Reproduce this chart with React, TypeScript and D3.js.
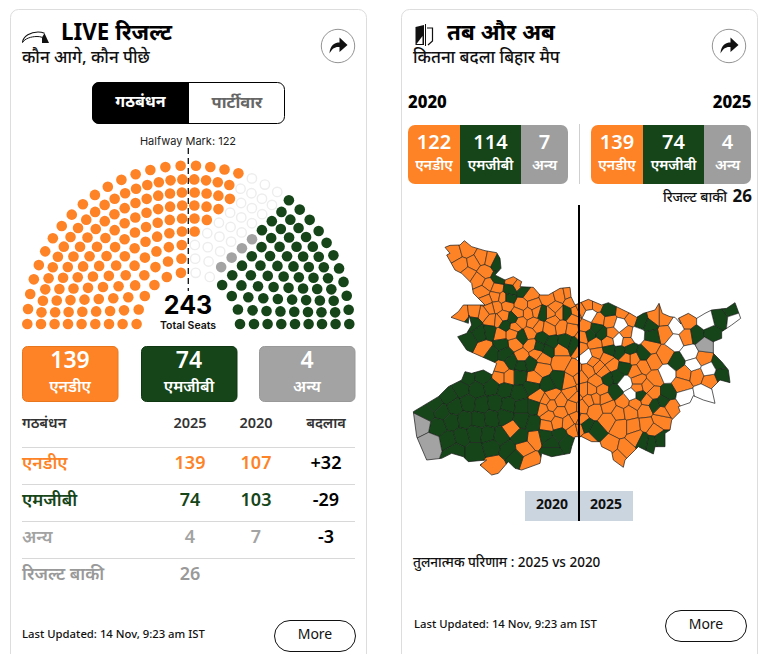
import React from "react";
import * as d3 from "d3";

const ORANGE = "#FD8326", GREEN = "#154518", GRAY = "#A3A3A3";
const FONT = "'Noto Sans', sans-serif";

// ---------- seats (outer ring first) ----------
const ringLeft = [17, 20, 18, 16, 14, 12, 10, 8, 6];
const ringRight = [18, 20, 18, 16, 14, 12, 10, 8, 6];
const ringRx = [161, 147.3, 133.7, 120.3, 106.7, 93, 79.3, 65.7, 51.7];
const ringRy = [158.5, 144.7, 131.7, 118.7, 105.7, 92.7, 79.3, 65.7, 51.7];
const rightOrange = [4, 4, 4, 3, 2, 1, 0, 0, 0];
const rightPending = [3, 4, 3, 3, 3, 3, 3, 2, 2];
const rightOther = [0, 0, 0, 0, 1, 1, 1, 1, 0];

// ---------- table ----------
const rowNames = ["एनडीए", "एमजीबी", "अन्य", "रिजल्ट बाकी"];
const seats2025 = ["139", "74", "4", "26"];
const seats2020 = ["107", "103", "7", ""];
const change = ["+32", "-29", "-3", ""];
const rowColors = [ORANGE, GREEN, "#A3A3A3", "#999999"];
const tableHeaders = ["गठबंधन", "2025", "2020", "बदलाव"];
const pillValues = ["139", "74", "4"];
const pillNames = ["एनडीए", "एमजीबी", "अन्य"];
const pillColors = [ORANGE, GREEN, GRAY];
const strip2020 = [122, 114, 7];
const strip2025 = [139, 74, 4];

// ---------- map: outline and constituency centres, in map units ----------
const outlineWest: [number, number][] = [[120,52],[135,46],[165,45],[178,32],[200,50],[240,62],[275,68],[285,85],[288,115],[270,135],[300,150],[325,140],[350,155],[345,170],[385,172],[405,195],[430,195],[465,175],[495,172],[498,200],[510,225]];
const outlineEast: [number, number][] = [[0,225],[40,208],[80,225],[100,218],[120,228],[165,250],[185,262],[205,250],[240,240],[252,220],[262,250],[285,260],[300,262],[318,282],[310,265],[340,250],[365,265],[390,250],[410,240],[455,235],[480,218],[490,245],[497,265],[470,285],[440,305],[440,325],[415,335],[415,370],[440,395],[460,420],[465,458],[435,450],[410,475],[420,520],[385,510],[355,497],[345,518],[310,530],[315,545],[290,570],[285,600],[270,610],[270,650],[240,650],[235,672],[190,650],[180,660],[150,690],[145,712],[115,690],[110,665],[80,650],[75,635],[50,635],[20,620],[0,620]];
const outlineSouthWest: [number, number][] = [[500,650],[495,670],[440,680],[410,670],[405,700],[350,720],[330,715],[310,695],[280,730],[260,735],[225,705],[245,690],[190,695],[175,680],[140,670],[110,685],[65,690],[35,620],[25,545],[50,530],[100,500],[130,470],[170,450],[180,425],[200,430],[235,420],[262,435],[275,400],[230,380],[185,360],[158,320],[185,310],[200,285],[192,255],[190,280],[138,262],[160,245],[175,225],[240,225],[205,190],[200,160],[170,130],[150,120],[125,75],[135,70]];

const westOrange: [number, number][] = [[150,70],[185,60],[230,85],[255,90],[170,105],[205,100],[240,125],[190,130],[220,150],[250,165],[275,175],[235,185],[270,200],[295,205],[245,210],[305,225],[275,230],[320,150],[340,165],[375,195],[350,225],[385,225],[370,250],[340,250],[295,260],[255,235],[235,250],[260,270],[170,250],[210,245],[430,205],[465,195],[490,190],[450,235],[500,215],[515,245],[445,270],[470,290],[500,295],[385,280],[375,310],[285,312],[240,355],[330,340],[380,345],[350,380],[395,370],[415,385],[410,415],[465,360],[465,395],[290,415],[285,440],[310,440],[385,445],[440,495],[420,510],[465,515],[500,490],[490,455],[510,420],[430,560],[465,545],[500,530],[515,565],[440,525],[490,580],[320,595],[390,625],[270,705],[375,695],[355,655],[510,500],[505,600],[395,245],[437,250],[398,290],[432,295],[465,250],[505,268],[330,290],[345,275],[280,272],[322,312],[400,500],[412,535],[455,578],[425,585]];
const westGreen: [number, number][] = [[275,100],[280,145],[315,180],[310,205],[355,180],[412,250],[483,250],[300,285],[325,265],[350,320],[205,280],[225,310],[190,330],[255,305],[290,345],[260,370],[300,370],[320,395],[350,405],[375,400],[410,325],[440,340],[480,335],[510,345],[430,360],[400,350],[185,445],[235,440],[170,475],[215,480],[260,470],[300,480],[345,440],[380,470],[340,490],[130,500],[90,525],[65,550],[110,545],[150,530],[190,520],[230,525],[270,520],[310,525],[350,530],[390,530],[430,465],[460,450],[100,590],[140,575],[180,570],[220,570],[260,565],[300,560],[350,570],[385,580],[420,618],[465,615],[130,630],[170,620],[210,610],[250,615],[285,620],[345,620],[440,640],[485,635],[150,665],[210,665],[260,650],[310,660],[440,665],[330,680]];
const westOther: [number, number][] = [[50,580],[80,640]];
const eastOrange: [number, number][] = [[15,240],[40,225],[65,225],[30,290],[70,270],[105,275],[110,310],[100,335],[60,340],[25,320],[145,245],[170,265],[155,310],[155,335],[15,355],[65,370],[95,385],[110,405],[70,410],[40,420],[15,440],[65,455],[50,480],[80,480],[25,480],[20,530],[45,510],[60,540],[100,530],[145,515],[130,550],[165,545],[100,570],[135,590],[175,590],[210,540],[255,570],[235,600],[285,530],[225,350],[270,375],[175,385],[205,410],[235,395],[190,450],[240,445],[235,490],[330,430],[320,465],[365,435],[405,450],[385,385],[335,275],[335,320],[15,595],[40,625],[105,650],[150,660],[130,680],[185,620],[15,570],[265,265],[240,265],[270,310],[55,395],[85,425],[180,425],[190,475],[215,470],[90,505],[60,505],[155,385],[215,510],[180,520],[215,585],[260,545]];
const eastGreen: [number, number][] = [[100,240],[65,295],[45,315],[80,310],[200,275],[225,285],[232,318],[105,360],[135,365],[165,358],[205,370],[150,412],[125,440],[98,445],[120,485],[195,495],[278,490],[240,525],[265,515],[305,395],[365,315],[410,310],[435,265],[470,240],[435,400],[440,435],[60,605],[30,590],[230,635],[205,630],[255,630]];
const eastPending: [number, number][] = [[45,255],[135,285],[185,315],[130,330],[35,380],[275,430],[150,460],[170,495],[305,290],[300,335],[345,370],[355,405],[400,420],[395,275],[480,270],[330,500],[385,490]];
const eastOther: [number, number][] = [[390,345]];
const EAST_OFFSET = 510;

const mapX = d3.scaleLinear().domain([0, 1020]).range([405, 745]);
const mapY = d3.scaleLinear().domain([0, 750]).range([230, 480]);
const east = (pts: [number, number][]) => pts.map(([x, y]) => [x + EAST_OFFSET, y] as [number, number]);
const project = (p: [number, number]) => [mapX(p[0]), mapY(p[1])] as [number, number];

function seatRows() {
  const cx = 188.3, cy = 324;
  const out: { x: number; y: number; fill: string; stroke: string }[] = [];
  const delta = (n: number) => (n === 17 || n === 18 ? 2.73 : 90 / (2 * n - 1));
  ringRx.forEach((rx, i) => {
    const ry = ringRy[i];
    const pos = (deg: number) => {
      const a = (deg * Math.PI) / 180;
      return { x: cx + rx * Math.cos(a), y: cy - ry * Math.sin(a) };
    };
    const L = ringLeft[i], R = ringRight[i];
    const d = delta(L);
    const lScale = d3.scaleLinear().domain([0, L - 1]).range([180, 90 + d]);
    d3.range(L).forEach((k) => out.push({ ...pos(lScale(k)), fill: ORANGE, stroke: ORANGE }));
    const rScale = d3.scaleLinear().domain([0, R - 1]).range([90 - d, 0]);
    d3.range(R).forEach((k) => {
      let fill = GREEN, stroke = GREEN;
      if (k < rightOrange[i]) { fill = ORANGE; stroke = ORANGE; }
      else if (k < rightOrange[i] + rightPending[i]) { fill = "#fff"; stroke = "#EDEDED"; }
      else if (k < rightOrange[i] + rightPending[i] + rightOther[i]) { fill = GRAY; stroke = GRAY; }
      out.push({ ...pos(rScale(k)), fill, stroke });
    });
  });
  return out;
}

function MapCells() {
  const groups: { pts: [number, number][]; fill: string }[] = [
    { pts: westOrange, fill: ORANGE },
    { pts: westGreen, fill: GREEN },
    { pts: westOther, fill: GRAY },
    { pts: east(eastOrange), fill: ORANGE },
    { pts: east(eastGreen), fill: GREEN },
    { pts: east(eastPending), fill: "#fff" },
    { pts: east(eastOther), fill: GRAY },
  ];
  const seeds = groups.flatMap((g) => g.pts.map((p) => ({ p: project(p), fill: g.fill })));
  const delaunay = d3.Delaunay.from(seeds.map((s) => s.p));
  const vor = delaunay.voronoi([395, 220, 760, 490]);
  const line = d3.line().curve(d3.curveLinearClosed);
  const outline = [...outlineWest, ...east(outlineEast), ...outlineSouthWest].map(project);
  const outlinePath = line(outline) || "";
  return (
    <g>
      <clipPath id="bihar"><path d={outlinePath} /></clipPath>
      <g clipPath="url(#bihar)">
        {seeds.map((s, i) => {
          const poly = vor.cellPolygon(i) as unknown as [number, number][];
          return poly ? <path key={i} d={line(poly) || ""} fill={s.fill} stroke="#1a1a1a" strokeWidth={0.55} /> : null;
        })}
      </g>
      <path d={outlinePath} fill="none" stroke="#1a1a1a" strokeWidth={0.7} />
    </g>
  );
}

function Share({ cx, cy }: { cx: number; cy: number }) {
  return (
    <g transform={`translate(${cx},${cy})`}>
      <circle r={16.7} fill="#fff" stroke="#777" strokeWidth={0.8} />
      <path d="M-8.5 7.5 C-8 -1 -3 -3.5 1.5 -3.5 L1.5 -8.5 L9.5 -1 L1.5 6 L1.5 1 C-3 0.5 -6 2.5 -8.5 7.5Z" fill="#111" />
    </g>
  );
}

function Strip({ x, values }: { x: number; values: number[] }) {
  const widths = [52, 61, 47];
  let cur = x;
  const fills = [ORANGE, GREEN, "#9E9E9E"];
  return (
    <g>
      <clipPath id={`strip${x}`}><rect x={x} y={125} width={160} height={59} rx={7} /></clipPath>
      {values.map((v, i) => {
        const x0 = cur;
        cur += widths[i];
        return (
          <g key={i}>
            <rect x={x0} y={125} width={widths[i]} height={59} fill={fills[i]} clipPath={`url(#strip${x})`} />
            <text x={x0 + widths[i] / 2} y={148.5} textAnchor="middle" fill="#fff" fontSize={20} fontWeight={600}>{v}</text>
            <text x={x0 + widths[i] / 2} y={170} textAnchor="middle" fill="#fff" fontSize={14.5} fontWeight={600}>{pillNames[i]}</text>
          </g>
        );
      })}
    </g>
  );
}

function More({ x, y }: { x: number; y: number }) {
  return (
    <g>
      <rect x={x} y={y} width={81} height={31} rx={15.5} fill="#fff" stroke="#111" strokeWidth={1} />
      <text x={x + 40.5} y={y + 18} textAnchor="middle" fontSize={14} fill="#111">More</text>
    </g>
  );
}

export default function App() {
  const seats = seatRows();
  const tableX = [22, 190, 256, 326];
  const lines = [447, 484, 521, 558];
  const rowY = [469, 505.7, 542.7, 580];
  const pillX = [22, 141, 259];
  return (
    <svg width={768} height={654} viewBox="0 0 768 654" style={{ position: "absolute", left: 0, top: 0, display: "block" }} fontFamily={FONT}>
      <rect width={768} height={654} fill="#fff" />
      <rect x={10.5} y={9.5} width={356} height={670} rx={8} fill="#fff" stroke="#DDD" />
      <rect x={401.5} y={9.5} width={356} height={670} rx={8} fill="#fff" stroke="#DDD" />

      {/* left header */}
      <path d="M22.5 42.5 C23 36 31 32 38 32 C40.5 32 42.5 32.4 44.5 33.2" fill="none" stroke="#111" strokeWidth={1.1} />
      <path d="M22.5 42.5 C25 38.5 31 36.5 37 36.5 C39 36.5 40.5 36.7 42 37.3" fill="none" stroke="#111" strokeWidth={1} />
      <path d="M42 37.3 L44.5 33.2 L49 43 L42 43Z" fill="#111" />
      <text x={61} y={40} fontSize={22.4} fontWeight={700} fill="#000">LIVE रिजल्ट</text>
      <text x={22} y={63} fontSize={17} fontWeight={500} fill="#111">कौन आगे, कौन पीछे</text>
      <Share cx={338} cy={46} />
      <rect x={92.5} y={82.5} width={192} height={41} rx={7} fill="#fff" stroke="#000" />
      <path d="M189 82 L99 82 A7 7 0 0 0 92 89 L92 117 A7 7 0 0 0 99 124 L189 124Z" fill="#000" />
      <text x={140.5} y={107} textAnchor="middle" fontSize={16} fontWeight={700} fill="#fff">गठबंधन</text>
      <text x={237} y={107.5} textAnchor="middle" fontSize={16.5} fontWeight={700} fill="#666">पार्टीवार</text>

      <text x={188} y={144.5} textAnchor="middle" fontSize={11} fontFamily="Inter" fill="#222">Halfway Mark: 122</text>
      <line x1={188.3} x2={188.3} y1={148} y2={291} stroke="#111" strokeWidth={1.3} strokeDasharray="6 4" />
      {seats.map((s, i) => (
        <circle key={i} cx={s.x} cy={s.y} r={s.fill === "#fff" ? 4.7 : 5.3} fill={s.fill} stroke={s.stroke} strokeWidth={s.fill === "#fff" ? 1.4 : 0} />
      ))}
      <text x={188} y={314} textAnchor="middle" fontSize={25} fontWeight={700} fontFamily="Inter" fill="#000">243</text>
      <text x={188} y={329} textAnchor="middle" fontSize={10.5} fontWeight={600} fontFamily="Inter" fill="#111">Total Seats</text>

      {pillValues.map((v, i) => (
        <g key={i}>
          <rect x={pillX[i] + 0.5} y={346.5} width={95.5} height={55} rx={5} fill={pillColors[i]} stroke={i === 2 ? "#999" : i === 0 ? "#E8761C" : "#0f3812"} />
          <text x={pillX[i] + 48} y={368} textAnchor="middle" fontSize={23} fontWeight={600} fill="#fff">{v}</text>
          <text x={pillX[i] + 48} y={392} textAnchor="middle" fontSize={16} fontWeight={600} fill="#fff">{pillNames[i]}</text>
        </g>
      ))}

      {tableHeaders.map((h, i) => (
        <text key={i} x={tableX[i]} y={428} textAnchor={i === 0 ? "start" : "middle"} fontSize={14.5} fontWeight={600} fill="#333">{h}</text>
      ))}
      {lines.map((y) => <line key={y} x1={22} x2={355} y1={y + 0.5} y2={y + 0.5} stroke="#D8D8D8" />)}
      {rowNames.map((n, i) => (
        <g key={n} fontWeight={600}>
          <text x={22} y={rowY[i]} fontSize={17.5} fill={rowColors[i]}>{n}</text>
          <text x={tableX[1]} y={rowY[i]} textAnchor="middle" fontSize={18} fill={rowColors[i]}>{seats2025[i]}</text>
          <text x={tableX[2]} y={rowY[i]} textAnchor="middle" fontSize={18} fill={rowColors[i]}>{seats2020[i]}</text>
          <text x={tableX[3]} y={rowY[i]} textAnchor="middle" fontSize={18} fill="#000">{change[i]}</text>
        </g>
      ))}
      <text x={22} y={638} fontSize={11.3} fontWeight={500} fill="#111">Last Updated: 14 Nov, 9:23 am IST</text>
      <More x={274.5} y={620.5} />

      {/* right header */}
      <path d="M415.5 27 L424 25 L424 45 L415.5 45Z" fill="#111" />
      <path d="M416.5 44 L422.5 44 L422.5 36Z" fill="#fff" />
      <path d="M427 28 L432.5 28 L432.5 41 L428 45" fill="none" stroke="#111" strokeWidth={1.2} />
      <line x1={425.5} x2={425.5} y1={24} y2={46} stroke="#111" strokeWidth={1} />
      <text x={447} y={40} fontSize={22.4} fontWeight={700} fill="#000">तब और अब</text>
      <text x={413} y={63} fontSize={17} fontWeight={500} fill="#111">कितना बदला बिहार मैप</text>
      <Share cx={729} cy={46} />
      <text x={408} y={108} fontSize={16.8} fontWeight={800} fill="#000">2020</text>
      <text x={751.5} y={108} textAnchor="end" fontSize={16.8} fontWeight={800} fill="#000">2025</text>
      <Strip x={408} values={strip2020} />
      <Strip x={591} values={strip2025} />
      <line x1={579.5} x2={579.5} y1={124} y2={184} stroke="#CFCFCF" />
      <text x={727} y={202} textAnchor="end" fontSize={14} fontWeight={500} fill="#111">रिजल्ट बाकी</text>
      <text x={752} y={202} textAnchor="end" fontSize={17} fontWeight={700} fill="#111">26</text>

      <MapCells />
      <rect x={525} y={491} width={54} height={30} fill="#CBD5E0" />
      <rect x={579} y={491} width={54} height={30} fill="#CBD5E0" />
      <line x1={579} x2={579} y1={205} y2={521} stroke="#000" strokeWidth={2} />
      <text x={552} y={509} textAnchor="middle" fontSize={14} fontWeight={700} fill="#111">2020</text>
      <text x={606} y={509} textAnchor="middle" fontSize={14} fontWeight={700} fill="#111">2025</text>
      <text x={413} y={567} fontSize={13.5} fontWeight={500} fill="#111">तुलनात्मक परिणाम : 2025 vs 2020</text>
      <text x={414} y={628} fontSize={11.3} fontWeight={500} fill="#111">Last Updated: 14 Nov, 9:23 am IST</text>
      <More x={665.5} y={610.5} />
    </svg>
  );
}
